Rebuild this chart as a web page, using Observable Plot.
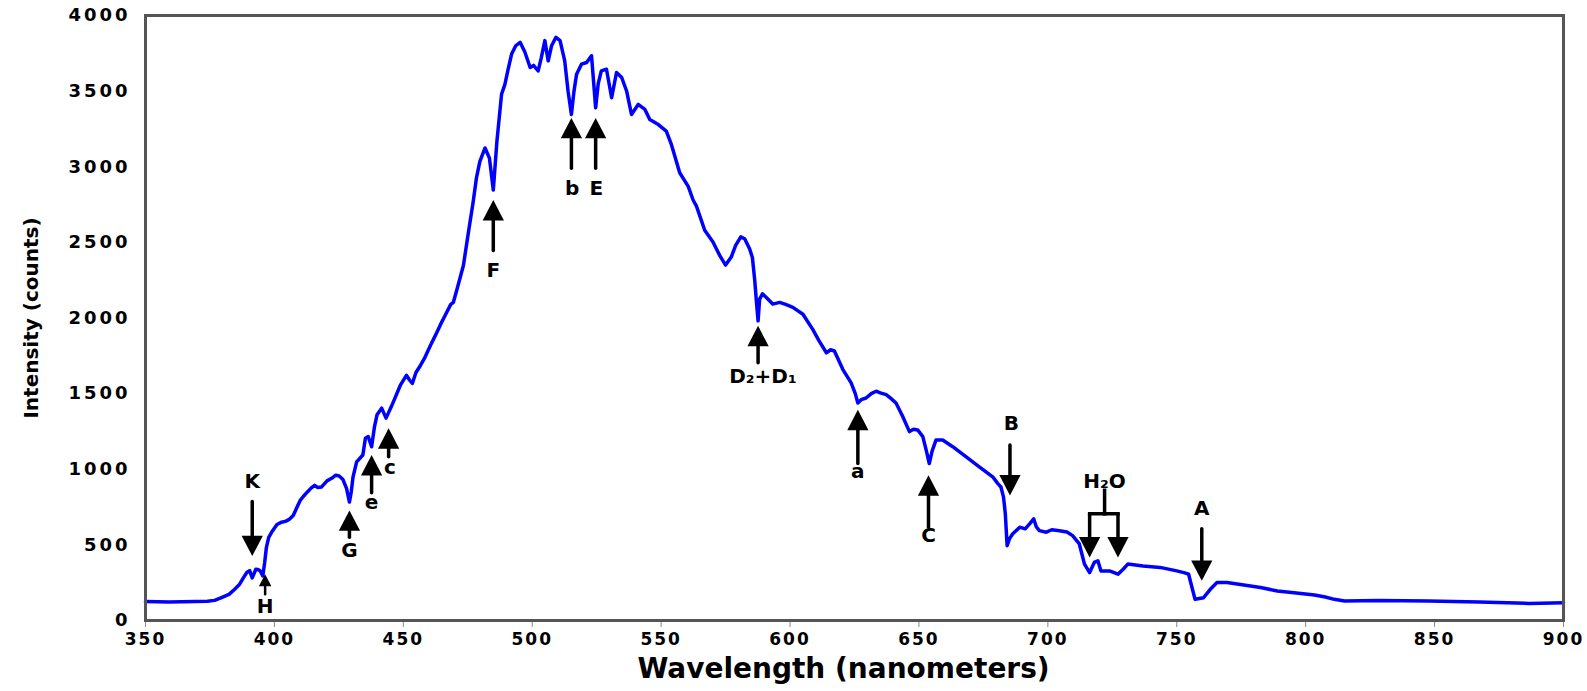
<!DOCTYPE html>
<html><head><meta charset="utf-8">
<script src="https://cdn.jsdelivr.net/npm/d3@7"></script>
<script src="https://cdn.jsdelivr.net/npm/@observablehq/plot@0.6"></script>
<style>
html,body{margin:0;padding:0;background:#fff;overflow:hidden}
#chart svg text{font-family:"DejaVu Sans",sans-serif;font-weight:bold;fill:#000}
#chart g[aria-label="x-axis tick label"] text{letter-spacing:2px}
#chart g[aria-label="y-axis tick label"] text{letter-spacing:3px}
#chart g[aria-label="x-axis tick"] path{stroke:#888}
</style></head><body><div id="chart"></div><script>
// Spectrum (nm, counts)
const wavelength = [350,359.2,369.1,374.0,376.8,379.0,382.4,384.5,386.5,387.9,389.3,390.4,391.4,392.8,393.9,394.5,395.5,396.2,396.9,397.8,398.9,401.0,402.8,404.5,405.8,407.3,408.8,410.0,411.2,412.8,414.2,415.6,416.7,418.3,420.4,422.2,423.8,425.1,426.6,428.0,429.1,429.8,430.5,431.9,434.3,435.3,436.4,437.7,438.8,439.8,441.6,443.3,445.4,447.0,448.8,451.2,452.4,453.5,454.9,456.7,458.4,460.6,462.3,464.4,466.3,468.4,469.4,471.3,473.3,475.2,477.1,478.4,479.7,481.7,483.4,484.9,486.3,488.1,489.4,490.6,492.0,493.6,495.3,497.1,499.2,500.5,502.3,503.5,504.9,506.2,507.5,509.2,510.8,512.6,513.9,515.2,516.2,517.2,519.1,521.1,523.0,524.6,525.6,526.8,528.8,530.8,532.7,534.7,536.6,538.5,541.1,543.7,545.6,548.9,552.0,554.0,557.2,560.5,562.4,563.7,566.9,570.1,572.7,575.0,577.2,578.9,580.9,582.4,584.3,585.4,586.3,587.0,587.6,588.2,589.3,590.8,593.3,596.0,598.3,601.1,605.0,608.8,611.2,614.1,615.7,617.2,620.5,623.7,625.3,626.3,627.6,629.5,631.5,633.4,635.0,637.3,639.0,641.1,643.7,646.3,647.9,649.5,651.5,652.9,654.0,655.1,656.6,659.2,663.1,668.2,673.4,678.6,680.6,681.8,682.8,683.5,684.2,685.1,686.3,689.1,691.2,693.0,694.5,695.5,696.7,699.4,701.5,704.5,707.4,709.6,712.2,714.2,716.2,718.0,719.4,720.6,723.9,727.2,729.2,731.0,736.9,743.5,750.0,753.1,754.6,755.9,757.1,760.4,763.0,765.6,769.5,776.0,782.5,789.0,795.5,803.4,807.6,811.1,815.1,828.1,847.6,867.2,886.6,900];
const intensity = [125,122,125,128,133,148,173,205,240,280,317,330,282,339,335,328,295,380,484,550,583,635,650,657,670,694,750,794,820,850,875,894,880,883,923,940,961,955,932,872,783,850,950,1049,1094,1205,1216,1149,1280,1360,1404,1338,1416,1480,1554,1621,1590,1567,1640,1688,1740,1822,1880,1956,2020,2090,2103,2220,2347,2560,2769,2930,3035,3124,3057,2846,3168,3479,3545,3640,3745,3800,3823,3760,3656,3670,3634,3720,3834,3700,3800,3856,3834,3700,3500,3346,3500,3612,3678,3689,3734,3390,3550,3634,3645,3456,3623,3590,3501,3346,3412,3379,3312,3279,3235,3146,2960,2870,2780,2740,2580,2502,2414,2350,2403,2480,2536,2524,2458,2400,2250,2100,1981,2125,2160,2136,2092,2103,2090,2070,2025,1925,1850,1770,1790,1782,1659,1571,1500,1438,1460,1471,1500,1516,1505,1493,1470,1438,1349,1249,1265,1260,1216,1120,1038,1120,1193,1193,1149,1083,1016,950,905,883,816,705,495,540,572,617,606,640,672,620,594,584,600,594,585,561,506,373,317,384,395,328,328,306,339,373,361,351,328,315,306,218,140,151,206,251,251,235,218,195,184,169,155,140,129,133,129,122,113,118];

// Axis ticks and titles
const xTicks = [350,400,450,500,550,600,650,700,750,800,850,900];
const yTicks = [0,500,1000,1500,2000,2500,3000,3500,4000];
const xTitle = "Wavelength (nanometers)";
const yTitle = "Intensity (counts)";

// Absorption-line arrows: wavelength, tail value, tip value
const arrowLine = ["K","H","G","e","c","F","b","E","D","a","C","B","H₂O","H₂O","A"];
const arrowAt   = [391.4,396.4,429.1,437.7,444.3,484.9,515.2,524.6,587.6,626.3,653.7,685.3,716.2,727.2,759.7];
const arrowFrom = [786,173,550,845,1083,2447,2990,2990,1704,1038,617,1160,705,705,606];
const arrowTo   = [426,306,728,1094,1271,2780,3323,3323,1948,1393,960,827,417,417,262];

// Line labels
const labelText  = ["K","H","G","e","c","F","b","E","D₂+D₁","a","C","B","H₂O","A"];
const labelAt    = [391.4,396.4,429.1,437.7,444.8,484.9,515.5,524.9,589.5,626.3,653.7,685.8,722.0,759.7];
const labelValue = [918,95,461,780,1010,2314,2857,2857,1615,983,561,1304,916,739];

// H2O bracket: stem wavelength, top and bar values, bar ends
const bracketStemAt = 722.0;
const bracketTop = 861;
const bracketBar = 705;
const bracketEnds = [716.2, 727.2];

const spectrum = wavelength.map((w, i) => ({w, v: intensity[i]}));
const arrows = arrowLine.map((n, i) => ({n, x: arrowAt[i], from: arrowFrom[i], to: arrowTo[i]}));
const bigArrows = arrows.filter(d => d.n !== "H");
const smallArrows = arrows.filter(d => d.n === "H");
const labels = labelText.map((t, i) => ({t, x: labelAt[i], v: labelValue[i]}));
const bracket = [
  {x1: bracketStemAt, y1: bracketTop, x2: bracketStemAt, y2: bracketBar},
  {x1: bracketEnds[0], y1: bracketBar, x2: bracketEnds[1], y2: bracketBar}
];

function tri(up) {
  return {draw(ctx, size) {
    const r = Math.sqrt(size / Math.PI), w = r * 1.25, h = r * 2.4 * (up ? 1 : -1);
    ctx.moveTo(0, 0); ctx.lineTo(w, h); ctx.lineTo(-w, h); ctx.closePath();
  }};
}
const triUp = tri(true), triDown = tri(false);

function arrowMarks(data, r, sw) {
  return [
    Plot.arrow(data, {x1: "x", y1: "from", x2: "x", y2: "to", headLength: 0, insetEnd: r, stroke: "#000", strokeWidth: sw}),
    Plot.dot(data.filter(d => d.to > d.from), {x: "x", y: "to", symbol: triUp, r, fill: "#000", stroke: "none"}),
    Plot.dot(data.filter(d => d.to < d.from), {x: "x", y: "to", symbol: triDown, r, fill: "#000", stroke: "none"})
  ];
}

const chart = Plot.plot({
  width: 1587, height: 691,
  marginLeft: 145, marginRight: 24, marginTop: 15, marginBottom: 71,
  style: {background: "#fff", fontFamily: "DejaVu Sans, sans-serif"},
  x: {domain: [350, 900]},
  y: {domain: [0, 4000]},
  marks: [
    Plot.axisX({ticks: xTicks, tickSize: 7, tickPadding: 5, fontSize: 17, label: null, tickFormat: d => String(d)}),
    Plot.axisY({ticks: yTicks, tickSize: 0, tickPadding: 15, fontSize: 18, label: null, tickFormat: d => String(d)}),
    Plot.line(spectrum, {x: "w", y: "v", stroke: "#0000ff", strokeWidth: 3.5, strokeLinejoin: "round"}),
    ...arrowMarks(bigArrows, 8.5, 3.5),
    ...arrowMarks(smallArrows, 5, 2.5),
    Plot.link(bracket, {x1: "x1", y1: "y1", x2: "x2", y2: "y2", stroke: "#000", strokeWidth: 3.5, strokeLinecap: "square"}),
    Plot.text(labels, {x: "x", y: "v", text: "t", fontSize: 20, fontWeight: "bold"}),
    Plot.frame({stroke: "#555", strokeWidth: 3}),
    Plot.text([xTitle], {text: d => d, frameAnchor: "bottom", dx: -11, dy: 57, fontSize: 28, fontWeight: "bold", style: {letterSpacing: "3px"}}),
    Plot.text([yTitle], {text: d => d, frameAnchor: "left", textAnchor: "middle", dx: -114, rotate: -90, fontSize: 20, fontWeight: "bold", style: {letterSpacing: "1px"}})
  ]
});
document.getElementById("chart").appendChild(chart);
</script></body></html>
